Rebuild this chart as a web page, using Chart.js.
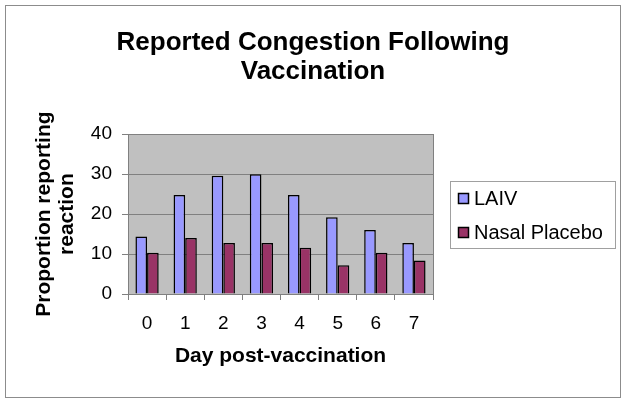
<!DOCTYPE html>
<html>
<head>
<meta charset="utf-8">
<script src="https://cdn.jsdelivr.net/npm/chart.js@4/dist/chart.umd.min.js"></script>
<style>
  html, body { margin: 0; padding: 0; background: #fff; }
  #wrap { width: 626px; height: 403px; }
</style>
</head>
<body>
<div id="wrap"><canvas id="congestionChart" width="626" height="403"></canvas></div>
<script>
// values
const days = ['0', '1', '2', '3', '4', '5', '6', '7'];
const laivValues = [14.4, 24.8, 29.6, 30.0, 24.8, 19.2, 16.0, 12.8];
const placeboValues = [10.3, 14.0, 12.8, 12.8, 11.6, 7.2, 10.3, 8.4];
const seriesNames = ['LAIV', 'Nasal Placebo'];
const yTicks = [0, 10, 20, 30, 40];

const fontFamily = '"Liberation Sans", Arial, sans-serif';

// white page, outer frame and grey plot area
const backgroundPlugin = {
    id: 'background',
    beforeDraw(chart) {
        const ctx = chart.ctx;
        const area = chart.chartArea;
        ctx.save();
        ctx.fillStyle = '#ffffff';
        ctx.fillRect(0, 0, chart.width, chart.height);
        ctx.strokeStyle = '#8c8c8c';
        ctx.lineWidth = 1;
        ctx.strokeRect(5.5, 5.5, chart.width - 11, chart.height - 11);
        ctx.fillStyle = '#c0c0c0';
        ctx.fillRect(area.left, area.top, area.right - area.left, area.bottom - area.top);
        ctx.restore();
    },
    afterDatasetsDraw(chart) {
        const ctx = chart.ctx;
        const area = chart.chartArea;
        ctx.save();
        ctx.strokeStyle = '#808080';
        ctx.lineWidth = 1;
        ctx.strokeRect(Math.round(area.left) + 0.5, Math.round(area.top) + 0.5,
            Math.round(area.right - area.left), Math.round(area.bottom - area.top));
        ctx.restore();
    }
};

// boxed legend to the right of the plot
const boxLegendPlugin = {
    id: 'boxLegend',
    afterDraw(chart) {
        const ctx = chart.ctx;
        const area = chart.chartArea;
        const x = Math.round(area.right) + 17;
        const y = Math.round((area.top + area.bottom) / 2) - 33;
        const w = 165;
        const h = 67;
        ctx.save();
        ctx.fillStyle = '#ffffff';
        ctx.fillRect(x, y, w, h);
        ctx.strokeStyle = '#a0a0a0';
        ctx.lineWidth = 1;
        ctx.strokeRect(x + 0.5, y + 0.5, w, h);
        ctx.font = '20px ' + fontFamily;
        ctx.textBaseline = 'middle';
        chart.data.datasets.forEach((ds, i) => {
            const rowY = y + 17 + i * 34;
            ctx.fillStyle = ds.backgroundColor;
            ctx.fillRect(x + 8.5, rowY - 4.5, 10, 10);
            ctx.strokeStyle = '#000000';
            ctx.lineWidth = 1.5;
            ctx.strokeRect(x + 8.5, rowY - 4.5, 10, 10);
            ctx.fillStyle = '#000000';
            ctx.fillText(ds.label, x + 24, rowY + 1);
        });
        ctx.restore();
    }
};

const ctx = document.getElementById('congestionChart').getContext('2d');

new Chart(ctx, {
    type: 'bar',
    data: {
        labels: days,
        datasets: [{
            label: seriesNames[0],
            data: laivValues,
            backgroundColor: '#9999ff',
            borderColor: '#000000',
            borderWidth: 1.5
        }, {
            label: seriesNames[1],
            data: placeboValues,
            backgroundColor: '#993366',
            borderColor: '#000000',
            borderWidth: 1.5
        }]
    },
    options: {
        responsive: false,
        animation: false,
        layout: {
            padding: { top: 8, left: 5, right: 5, bottom: 5 }
        },
        categoryPercentage: 0.61,
        barPercentage: 1.0,
        plugins: {
            legend: { display: false },
            tooltip: { enabled: false },
            title: {
                display: true,
                text: ['Reported Congestion Following', 'Vaccination'],
                color: '#000000',
                font: { family: fontFamily, size: 26, weight: 'bold', lineHeight: 1.12 },
                padding: { top: 20, bottom: 48 }
            }
        },
        scales: {
            x: {
                grid: {
                    drawOnChartArea: false,
                    offset: true,
                    color: '#808080',
                    tickLength: 6
                },
                border: { color: '#808080' },
                ticks: {
                    color: '#000000',
                    padding: 12,
                    font: { family: fontFamily, size: 19 }
                },
                title: {
                    display: true,
                    text: 'Day post-vaccination',
                    color: '#000000',
                    font: { family: fontFamily, size: 21, weight: 'bold', lineHeight: 1.2 },
                    padding: { top: 10, bottom: 29 }
                },
                afterFit(scale) {
                    scale.height = 104;
                }
            },
            y: {
                min: 0,
                max: 40,
                afterBuildTicks(scale) {
                    scale.ticks = yTicks.map(v => ({ value: v }));
                },
                grid: {
                    color: '#808080',
                    tickLength: 6
                },
                border: { color: '#808080' },
                ticks: {
                    color: '#000000',
                    padding: 10,
                    font: { family: fontFamily, size: 19 }
                },
                title: {
                    display: true,
                    text: ['Proportion reporting', 'reaction'],
                    color: '#000000',
                    font: { family: fontFamily, size: 21, weight: 'bold', lineHeight: 1.1 },
                    padding: { top: 28, bottom: 0 }
                },
                afterFit(scale) {
                    scale.width = 123;
                }
            },
            legendSpace: {
                type: 'linear',
                position: 'right',
                display: true,
                grid: { display: false },
                border: { display: false },
                ticks: { display: false },
                afterFit(scale) {
                    scale.width = 188;
                }
            }
        }
    },
    plugins: [backgroundPlugin, boxLegendPlugin]
});
</script>
</body>
</html>
